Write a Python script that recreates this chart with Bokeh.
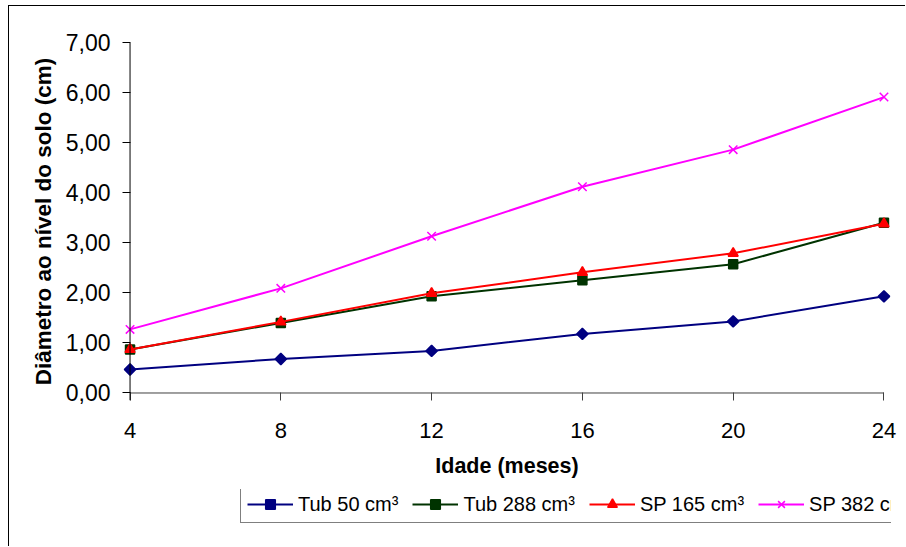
import math
from bokeh.plotting import figure
from bokeh.layouts import column
from bokeh.models import Legend, LegendItem, FixedTicker, Span
from bokeh.embed import file_html
from bokeh.resources import INLINE

idade = [4, 8, 12, 16, 20, 24]
tub50 = [0.47, 0.68, 0.84, 1.18, 1.43, 1.93]
tub288 = [0.87, 1.40, 1.93, 2.25, 2.57, 3.40]
sp165 = [0.87, 1.42, 1.99, 2.41, 2.79, 3.38]
sp382 = [1.27, 2.09, 3.13, 4.12, 4.86, 5.91]

y_ticks = [0, 1, 2, 3, 4, 5, 6, 7]
y_tick_labels = ["0,00", "1,00", "2,00", "3,00", "4,00", "5,00", "6,00", "7,00"]
x_ticks = [4, 8, 12, 16, 20, 24]
x_tick_labels = ["4", "8", "12", "16", "20", "24"]

names = ["Tub 50 cm³", "Tub 288 cm³", "SP 165 cm³", "SP 382 cm³"]

FONT = "Liberation Sans"

# ---------------- main chart ----------------
p = figure(width=897, height=484, output_backend="svg", toolbar_location=None,
           x_range=(3.8, 24.2), y_range=(-0.15, 7.0),
           min_border_left=113, min_border_right=15, min_border_top=36, min_border_bottom=90)
p.margin = (5, 0, 0, 8)
p.styles = {"border-top": "1px solid black", "border-left": "1px solid black"}
p.outline_line_color = None
p.grid.visible = False
p.background_fill_color = "white"
p.border_fill_color = "white"

p.xaxis.ticker = FixedTicker(ticks=x_ticks)
p.yaxis.ticker = FixedTicker(ticks=y_ticks)
p.xaxis.major_label_overrides = {t: l for t, l in zip(x_ticks, x_tick_labels)}
p.yaxis.major_label_overrides = {t: l for t, l in zip(y_ticks, y_tick_labels)}
p.xaxis.minor_tick_line_color = None
p.yaxis.minor_tick_line_color = None
p.xaxis.axis_line_color = None
p.yaxis.axis_line_color = None
p.xaxis.major_tick_out = 0
p.yaxis.major_tick_out = 0
p.xaxis.major_tick_in = 8
p.yaxis.major_tick_in = 8
p.xaxis.major_tick_line_color = "#404040"
p.yaxis.major_tick_line_color = "black"
for ax in (p.xaxis, p.yaxis):
    ax.major_label_text_font = FONT
    ax.major_label_text_color = "black"
    ax.axis_label_text_font = FONT
    ax.axis_label_text_font_style = "bold"
    ax.axis_label_text_color = "black"
p.xaxis.major_label_text_font_size = "22px"
p.yaxis.major_label_text_font_size = "23px"
p.xaxis.axis_label_text_font_size = "21.5px"
p.yaxis.axis_label_text_font_size = "22.5px"
p.xaxis.major_label_standoff = 22
p.yaxis.major_label_standoff = 12
p.xaxis.axis_label = "Idade (meses)"
p.yaxis.axis_label = "Diâmetro ao nível do solo (cm)"
p.xaxis.axis_label_standoff = 13
p.yaxis.axis_label_standoff = 7

p.add_layout(Span(location=x_ticks[0], dimension="height", line_color="black", line_width=1))
p.segment(x0=[x_ticks[0]], y0=[y_ticks[0]], x1=[x_ticks[-1]], y1=[y_ticks[0]],
          line_color="#404040", line_width=1)

series = [
    (tub50, "#000080", "square", 8, math.pi / 4),
    (tub288, "#003300", "square", 9, 0),
    (sp165, "#FF0000", "triangle", 10, 0),
    (sp382, "#FF00FF", "x", 12, 0),
]

for vals, col, marker, size, ang in series:
    p.line(idade, vals, line_color=col, line_width=2)
    p.scatter(idade, vals, marker=marker, size=size, angle=ang,
              fill_color=col, line_color=col, line_width=1.5)

# ---------------- legend strip below ----------------
q = figure(width=897, height=57, output_backend="svg", toolbar_location=None,
           x_range=(100, 101), y_range=(0, 1), x_axis_type=None, y_axis_type=None,
           min_border_left=0, min_border_right=0, min_border_top=0, min_border_bottom=0)
q.margin = (0, 0, 0, 8)
q.styles = {"border-left": "1px solid black"}
q.outline_line_color = None
q.grid.visible = False
q.background_fill_color = "white"
q.border_fill_color = "white"

items = []
for (vals, col, marker, size, ang), name in zip(series, names):
    r1 = q.line(idade, vals, line_color=col, line_width=2)
    r2 = q.scatter(idade, vals, marker=marker, size=size, angle=ang,
                   fill_color=col, line_color=col, line_width=1.5)
    items.append(LegendItem(label=name, renderers=[r1, r2]))

legend = Legend(items=items, orientation="horizontal", location=(118, 23),
                label_text_font=FONT, label_text_font_size="20px", label_text_color="black",
                glyph_width=46, glyph_height=24, label_standoff=5, spacing=14, padding=6,
                margin=0, border_line_color="black", border_line_width=1,
                background_fill_color="white", background_fill_alpha=1.0)
q.add_layout(legend, "center")

layout = column(p, q, spacing=0)
open("out.html", "w").write(file_html(layout, INLINE))
